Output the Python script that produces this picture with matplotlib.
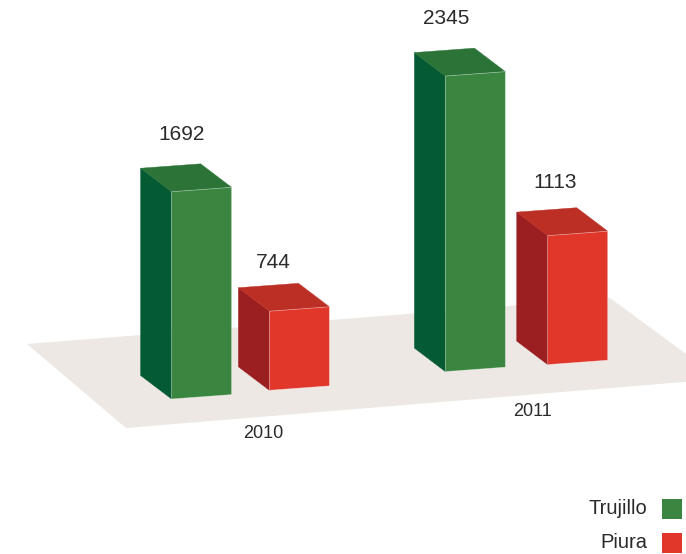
import matplotlib
matplotlib.use("Agg")
import matplotlib.pyplot as plt
from matplotlib.patches import Polygon, Rectangle

plt.rcParams['font.family'] = ['Liberation Sans', 'DejaVu Sans']

# data
years = ['2010', '2011']
series = ['Trujillo', 'Piura']
trujillo = [1692, 2345]
piura = [744, 1113]

# colours: front, side, top
green = ('#3a8641', '#045a33', '#2b7336')
red = ('#e1362a', '#9b1e21', '#bb2f25')
floor_color = '#ede8e4'
text_color = '#2a2a2a'

# layout (pixels of the picture)
bar_w = 60
bar_tilt = -4.4
depth_x = -31
depth_y = -23.5
px_per_unit = 0.1352
zero_shift = -21.5
trujillo_x = [171.6, 445.4]
trujillo_base = [399, 371.6]
piura_x = [269.4, 547.7]
piura_base = [390.3, 364.6]
trujillo_lab = [(181.5, 135), (446, 19)]
piura_lab = [(273.5, 262), (555, 182)]
year_lab = [(263, 434), (533, 412)]
floor = [(27, 344), (126, 428), (720, 379), (610, 298)]


def bar3d(ax, x, base, value, colors):
    h = value * px_per_unit + zero_shift
    top = base - h
    side = [(x, base), (x, top), (x + depth_x, top + depth_y), (x + depth_x, base + depth_y)]
    lid = [(x, top), (x + bar_w, top + bar_tilt), (x + bar_w + depth_x, top + bar_tilt + depth_y),
           (x + depth_x, top + depth_y)]
    front = [(x, base), (x + bar_w, base + bar_tilt), (x + bar_w, top + bar_tilt), (x, top)]
    ax.add_patch(Polygon(side, fc=colors[1], ec=colors[1], lw=0.3))
    ax.add_patch(Polygon(lid, fc=colors[2], ec=colors[2], lw=0.3))
    ax.add_patch(Polygon(front, fc=colors[0], ec=(1, 1, 1, 0.45), lw=0.5))


fig = plt.figure(figsize=(6.86, 5.54), dpi=100)
ax = fig.add_axes([0, 0, 1, 1])
ax.set_xlim(0, 686)
ax.set_ylim(554, 0)
ax.axis('off')

ax.add_patch(Polygon(floor, fc=floor_color, ec='none'))

for i in range(len(years)):
    bar3d(ax, trujillo_x[i], trujillo_base[i], trujillo[i], green)
    bar3d(ax, piura_x[i], piura_base[i], piura[i], red)
    ax.text(trujillo_lab[i][0], trujillo_lab[i][1], str(trujillo[i]), fontsize=15, color=text_color,
            ha='center', va='center')
    ax.text(piura_lab[i][0], piura_lab[i][1], str(piura[i]), fontsize=15, color=text_color,
            ha='center', va='center')
    ax.text(year_lab[i][0], year_lab[i][1], years[i], fontsize=13, color=text_color,
            ha='center', va='center')

# legend
for name, c, y in zip(series, [green[0], red[0]], [499, 533]):
    ax.add_patch(Rectangle((662, y), 20, 20, fc=c, ec='none'))
    ax.text(647, y + 10, name, fontsize=14.5, color=text_color, ha='right', va='center')

fig.savefig('out.png', dpi=100)
